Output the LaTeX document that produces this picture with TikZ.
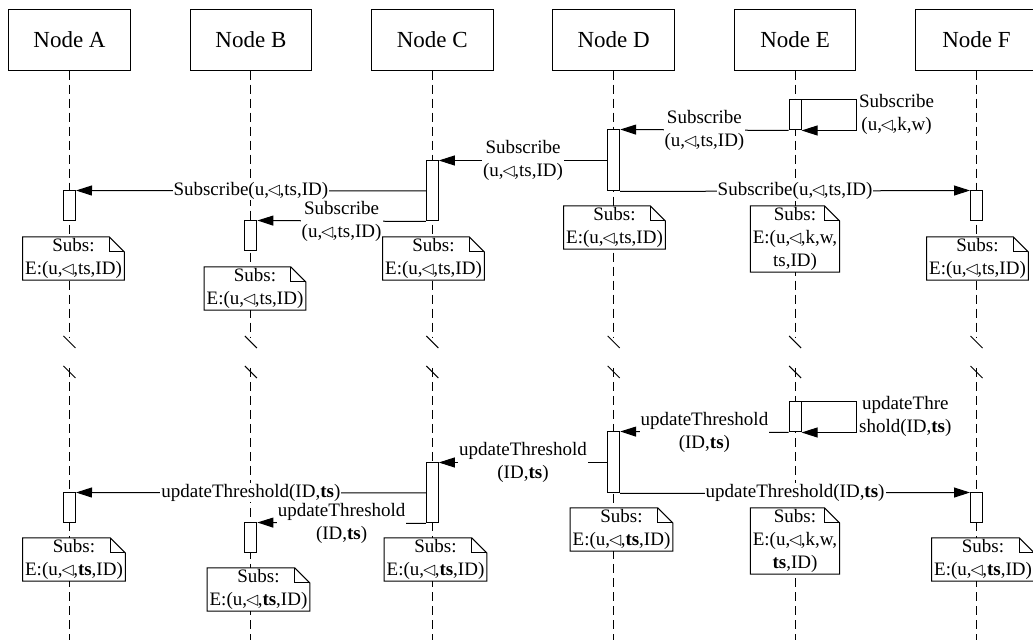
\documentclass[tikz,border=0pt]{standalone}
\usepackage{fontspec}
\setmainfont{Liberation Serif}
\usepackage{amssymb}
\usetikzlibrary{arrows.meta, positioning, calc}

\newcommand{\lhdsym}{$\mkern-2mu\lhd\mkern-2mu$}

\begin{document}
\begin{tikzpicture}[
    x=0.5pt, y=-0.5pt, line width=0.5pt,
    every node/.style={font=\fontsize{9.5}{11.5}\selectfont},
    actor/.style={draw, minimum width=60.8pt, minimum height=30.4pt, font=\fontsize{11.5}{13}\selectfont},
    lifeline/.style={dash pattern=on 4.5pt off 2.5pt},
    actbar/.style={draw, fill=white, minimum width=6pt, minimum height=15pt, inner sep=0pt},
    subsnote/.style={fill=white, align=center, inner xsep=1pt, inner ysep=0.5pt, anchor=north},
    msg/.style={-{Triangle[length=8pt, width=5pt]}},
    lbl/.style={fill=white, align=center, inner sep=0.5pt}
]
\useasboundingbox (0,0) rectangle (1033,640);

% participants and broken lifelines
\foreach \n/\t [count=\i from 0] in {A/Node A, B/Node B, C/Node C, D/Node D, E/Node E, F/Node F} {
    \node[actor] (\n) at ({69.5+181.4*\i},39.7) {\t};
    \coordinate (\n-cut) at ({69.5+181.4*\i},338);
    \coordinate (\n-end) at ({69.5+181.4*\i},640);
    \draw[lifeline] (\n) -- (\n-cut);
    \draw ($(\n-cut)+(-6,-2)$) -- ++(12,12);
    \draw ($(\n-cut)+(-6,28)$) -- ++(12,12);
    \draw[lifeline] ($(\n-cut)+(0,30)$) -- (\n-end);
}

% subscribe phase
\node[actbar] (E1) at (795.1,115) {};
\node[actbar, minimum height=30.5pt] (D1) at (613.7,160.5) {};
\node[actbar, minimum height=30pt] (C1) at (432.3,191) {};
\node[actbar] (A1) at (69.5,206) {};
\node[actbar] (B1) at (250.9,236) {};
\node[actbar] (F1) at (976.5,206) {};

\coordinate (E1loop) at ($(E1.north east)+(55,0)$);
\draw[msg] (E1.north east) -- (E1loop) |- (E1.south east);
\node[right, align=center, inner sep=1pt] (E1txt) at ($(E1loop)+(0,15)$) {Subscribe\\(u,\lhdsym,k,w)};
\draw[msg] (E1.south west) -- node[lbl] {Subscribe\\(u,\lhdsym,ts,ID)} (D1.north east);
\draw[msg] (D1.west |- C1.north) -- node[lbl] {Subscribe\\(u,\lhdsym,ts,ID)} (C1.north east);
\draw[msg] (C1.west) -- node[lbl] {Subscribe(u,\lhdsym,ts,ID)} (A1.north east);
\draw[msg] (C1.south west) -- node[lbl] {Subscribe\\(u,\lhdsym,ts,ID)} (B1.north east);
\draw[msg] (D1.south east) -- node[lbl] {Subscribe(u,\lhdsym,ts,ID)} (F1.north west);

\node[subsnote] (nA1) at (73.5,237) {Subs:\\E:(u,\lhdsym,ts,ID)};
\node[subsnote] (nB1) at (255,267) {Subs:\\E:(u,\lhdsym,ts,ID)};
\node[subsnote] (nC1) at (433.5,237) {Subs:\\E:(u,\lhdsym,ts,ID)};
\node[subsnote] (nD1) at (614.5,206) {Subs:\\E:(u,\lhdsym,ts,ID)};
\node[subsnote] (nE1) at (795,206) {Subs:\\E:(u,\lhdsym,k,w,\\ts,ID)};
\node[subsnote] (nF1) at (977.5,237) {Subs:\\E:(u,\lhdsym,ts,ID)};

% threshold update phase
\begin{scope}[yshift=-151pt]
\node[actbar] (E2) at (795.1,115) {};
\node[actbar, minimum height=30.5pt] (D2) at (613.7,160.5) {};
\node[actbar, minimum height=30pt] (C2) at (432.3,191) {};
\node[actbar] (A2) at (69.5,206) {};
\node[actbar] (B2) at (250.9,236) {};
\node[actbar] (F2) at (976.5,206) {};

\coordinate (E2loop) at ($(E2.north east)+(55,0)$);
\draw[msg] (E2.north east) -- (E2loop) |- (E2.south east);
\node[right, align=center, inner sep=1pt] (E2txt) at ($(E2loop)+(0,15)$) {updateThre\\shold(ID,\textbf{ts})};
\draw[msg] (E2.south west) -- node[lbl] {updateThreshold\\(ID,\textbf{ts})} (D2.north east);
\draw[msg] (D2.west |- C2.north) -- node[lbl] {updateThreshold\\(ID,\textbf{ts})} (C2.north east);
\draw[msg] (C2.west) -- node[lbl] {updateThreshold(ID,\textbf{ts})} (A2.north east);
\draw[msg] (C2.south west) -- node[lbl] {updateThreshold\\(ID,\textbf{ts})} (B2.north east);
\draw[msg] (D2.south east) -- node[lbl] {updateThreshold(ID,\textbf{ts})} (F2.north west);

\node[subsnote] (nA2) at (74,236) {Subs:\\E:(u,\lhdsym,\textbf{ts},ID)};
\node[subsnote] (nB2) at (258.5,266) {Subs:\\E:(u,\lhdsym,\textbf{ts},ID)};
\node[subsnote] (nC2) at (435.5,236) {Subs:\\E:(u,\lhdsym,\textbf{ts},ID)};
\node[subsnote] (nD2) at (621.5,206) {Subs:\\E:(u,\lhdsym,\textbf{ts},ID)};
\node[subsnote] (nE2) at (795,206) {Subs:\\E:(u,\lhdsym,k,w,\\\textbf{ts},ID)};
\node[subsnote] (nF2) at (983,236) {Subs:\\E:(u,\lhdsym,\textbf{ts},ID)};
\end{scope}

% note outlines with folded corner
\foreach \m in {nA1,nB1,nC1,nD1,nE1,nF1,nA2,nB2,nC2,nD2,nE2,nF2} {
    \draw (\m.north west) -- ([xshift=-7.5pt]\m.north east) -- ([yshift=-7.5pt]\m.north east) -- (\m.south east) -- (\m.south west) -- cycle;
    \draw ([xshift=-7.5pt]\m.north east) |- ([yshift=-7.5pt]\m.north east);
}
\end{tikzpicture}
\end{document}
